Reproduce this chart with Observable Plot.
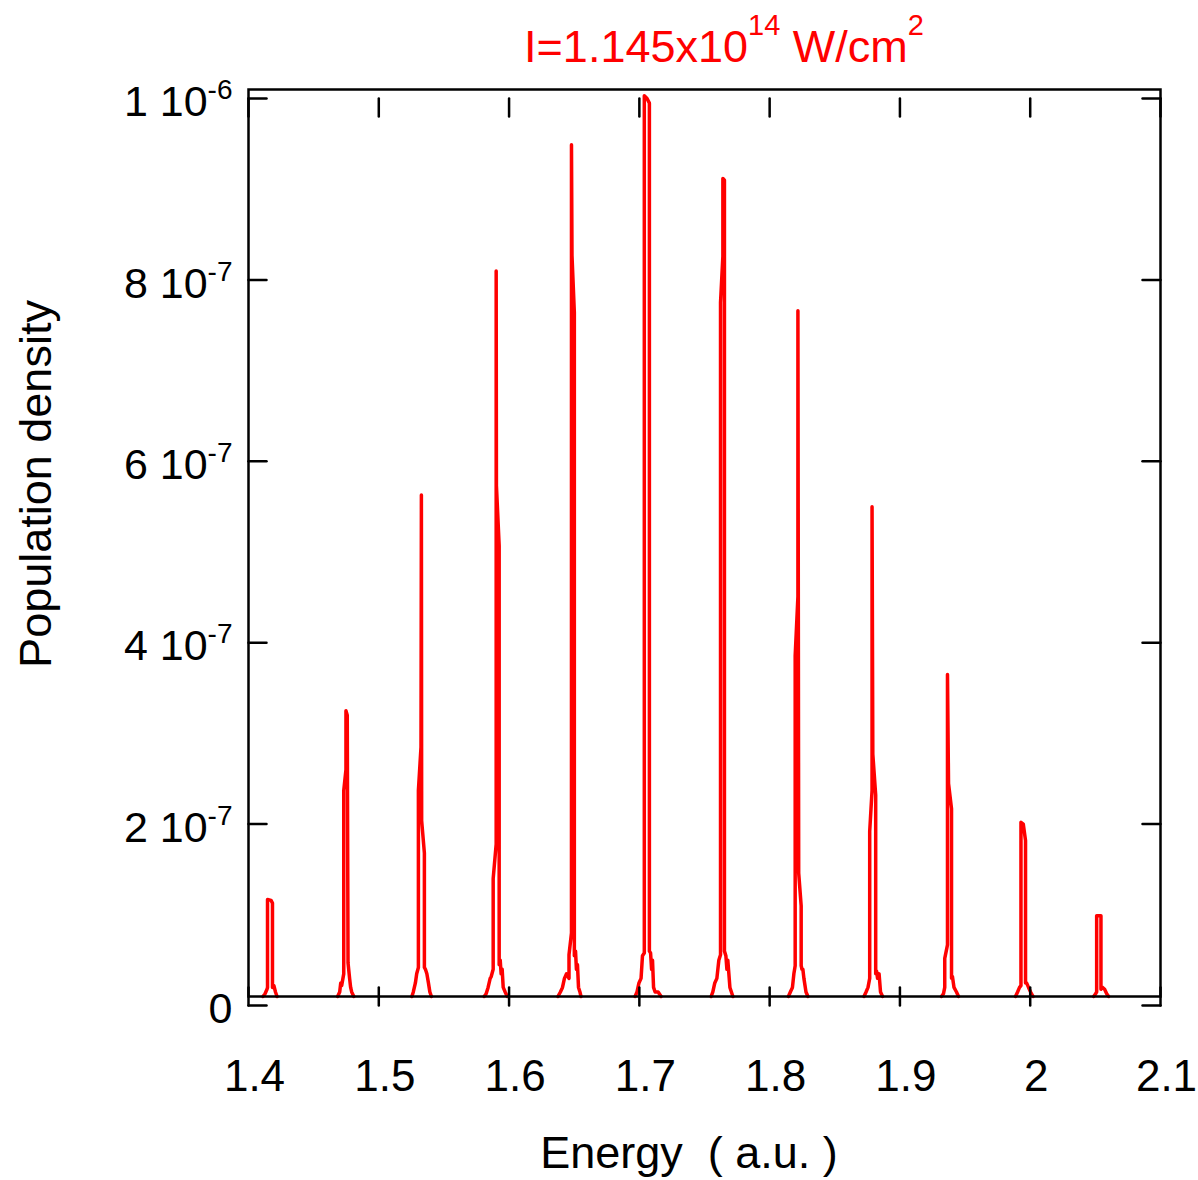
<!DOCTYPE html>
<html><head><meta charset="utf-8">
<script src="https://cdn.jsdelivr.net/npm/d3@7"></script>
<script src="https://cdn.jsdelivr.net/npm/@observablehq/plot@0.6"></script>
<style>body{margin:0;background:#fff} svg{display:block}</style>
</head><body><div id="chart"></div>
<script>
// Peak centres (energy, a.u.)
const peakCenters = [1.4165, 1.4746, 1.5327, 1.5901, 1.6479, 1.7059, 1.7641, 1.8217, 1.8786, 1.9365, 1.9941, 2.0525];
// Peak profiles: [energy offset (1e-3 a.u.), population density (1e-7)]
const peak1 = [[-5.4,0],[-3.8,0.03],[-2.3,0.08],[-1.9,0.1],[-1.9,1.07],[0.8,1.06],[1.9,1.03],[1.9,0.1],[3.0,0.12],[4.2,0.05],[5.4,0]];
const peak2 = [[-6.2,0],[-4.6,0.05],[-3.8,0.15],[-3.1,0.12],[-1.5,0.25],[-1.5,2.27],[0.2,2.5],[0.2,3.15],[1.2,3.1],[1.8,0.37],[3.0,0.2],[3.8,0.1],[4.6,0.05],[6.2,0]];
const peak3 = [[-7.3,0],[-6.2,0.05],[-4.6,0.15],[-3.6,0.25],[-2.3,0.32],[-2.3,2.27],[-0.3,2.75],[0,5.53],[0.2,1.94],[2.3,1.58],[2.3,0.32],[3.1,0.3],[4.2,0.25],[5.4,0.15],[6.5,0.05],[7.7,0]];
const peak4 = [[-9.2,0],[-7.7,0.03],[-6.2,0.1],[-4.6,0.2],[-3.8,0.22],[-2.3,0.3],[-2.3,1.3],[0,1.68],[0,8.0],[0.2,5.63],[2.3,4.97],[2.3,0.35],[3.1,0.4],[3.8,0.25],[4.6,0.3],[5.4,0.1],[6.9,0.05],[8.5,0]];
const peak5 = [[-10.4,0],[-8.5,0.05],[-6.9,0.1],[-5.4,0.2],[-3.8,0.25],[-1.9,0.2],[-1.9,0.46],[0,0.7],[0,9.39],[0.4,8.17],[2.2,7.54],[2.2,0.45],[3.1,0.5],[3.8,0.3],[4.6,0.35],[5.4,0.1],[6.5,0.05],[7.3,0]];
const peak6 = [[-9.2,0],[-7.7,0.05],[-6.2,0.15],[-4.6,0.2],[-3.5,0.45],[-2.1,0.48],[-2.1,9.93],[0,9.9],[1.8,9.85],[1.8,0.5],[2.7,0.48],[3.5,0.3],[4.2,0.4],[5.0,0.1],[6.2,0.05],[8.5,0.05],[10.8,0]];
const peak7 = [[-9.0,0],[-7.7,0.05],[-6.2,0.15],[-4.6,0.2],[-3.1,0.4],[-1.8,0.46],[-1.8,7.65],[0,8.16],[0,9.02],[1.2,9.0],[1.2,0.5],[2.3,0.45],[3.1,0.3],[3.8,0.4],[5.4,0.1],[7.7,0]];
const peak8 = [[-7.3,0],[-5.8,0.05],[-4.2,0.1],[-3.1,0.25],[-2.1,0.34],[-2.1,3.76],[0,4.41],[0,7.56],[0.6,1.36],[2.5,1.0],[2.5,0.34],[3.1,0.3],[3.8,0.3],[4.6,0.2],[6.2,0.05],[7.7,0]];
const peak9 = [[-6.2,0],[-4.6,0.05],[-3.1,0.1],[-1.8,0.2],[-1.8,1.82],[0,2.27],[0,5.40],[0.6,2.67],[2.8,2.22],[2.8,0.25],[3.5,0.28],[4.2,0.2],[5.4,0.25],[6.5,0.05],[8.1,0]];
const peak10 = [[-4.6,0],[-3.1,0.03],[-2.1,0.1],[-2.1,0.42],[0,0.57],[0,3.55],[0.8,2.35],[3.1,2.07],[3.1,0.2],[3.8,0.22],[5.0,0.1],[6.9,0.05],[8.5,0]];
const peak11 = [[-5.4,0],[-3.8,0.05],[-2.3,0.1],[-1.2,0.12],[-1.2,1.92],[0.6,1.9],[2.3,1.72],[2.3,0.15],[3.1,0.15],[4.6,0.1],[6.2,0.05],[8.1,0]];
const peak12 = [[-3.8,0],[-2.3,0.03],[-1.5,0.05],[-1.5,0.89],[1.8,0.89],[1.8,0.08],[3.1,0.1],[4.6,0.08],[6.2,0.03],[7.7,0]];
const profiles = [peak1, peak2, peak3, peak4, peak5, peak6, peak7, peak8, peak9, peak10, peak11, peak12];

const xTicks = [1.4, 1.5, 1.6, 1.7, 1.8, 1.9, 2.0, 2.1];
const xTickLabels = ["1.4", "1.5", "1.6", "1.7", "1.8", "1.9", "2", "2.1"];
const yTicks = [0, 2e-7, 4e-7, 6e-7, 8e-7, 1e-6];
const yTickLabels = ["0", "2 10^-7", "4 10^-7", "6 10^-7", "8 10^-7", "1 10^-6"];

const points = profiles.flatMap((prof, k) =>
  prof.map(([dE, v]) => ({E: peakCenters[k] + dE / 1000, p: v * 1e-7, peak: k})));

const tickUp = {draw(c, l) { c.moveTo(0, 0); c.lineTo(0, -l); }};
const tickDown = {draw(c, l) { c.moveTo(0, 0); c.lineTo(0, l); }};
const tickRight = {draw(c, l) { c.moveTo(0, 0); c.lineTo(l, 0); }};
const tickLeft = {draw(c, l) { c.moveTo(0, 0); c.lineTo(-l, 0); }};
const tk = {stroke: "black", strokeWidth: 2.5, length: 18};

const chart = Plot.plot({
  width: 1198, height: 1180,
  marginLeft: 248, marginRight: 38, marginTop: 89, marginBottom: 184,
  style: {fontFamily: "'Liberation Sans', Arial, sans-serif", background: "white", color: "black"},
  x: {domain: [1.4, 2.1]},
  y: {domain: [0, 1e-6]},
  marks: [
    Plot.line(points, {x: "E", y: "p", z: "peak", stroke: "#ff0000", strokeWidth: 3.5, strokeLinejoin: "round"}),
    Plot.frame({stroke: "black", strokeWidth: 2.5}),
    Plot.vector(xTicks, {x: d => d, frameAnchor: "bottom", shape: tickUp, ...tk}),
    Plot.vector(xTicks, {x: d => d, frameAnchor: "top", shape: tickDown, ...tk}),
    Plot.vector(yTicks, {y: d => d, frameAnchor: "left", shape: tickRight, ...tk}),
    Plot.vector(yTicks, {y: d => d, frameAnchor: "right", shape: tickLeft, ...tk}),
    Plot.axisX({ticks: xTicks, tickFormat: d => xTickLabels[xTicks.indexOf(d)], tickSize: 0, tickPadding: 63, fontSize: 44, dx: 6, label: null}),
    Plot.axisY({ticks: yTicks, tickFormat: d => yTickLabels[yTicks.indexOf(d)], tickSize: 0, tickPadding: 16, fontSize: 43, dy: 13, label: null})
  ]
});
document.getElementById("chart").appendChild(chart);

const svg = d3.select(chart);
// superscripts in y tick labels
svg.selectAll("text").each(function () {
  const s = this.textContent;
  if (s.includes("^")) {
    const [base, exp] = s.split("^");
    this.textContent = base;
    d3.select(this).append("tspan").attr("dy", -17).attr("font-size", 28).text(exp);
  }
});
// title
const t = svg.append("text").attr("x", 724).attr("y", 62).attr("text-anchor", "middle")
  .attr("fill", "#ff0000").attr("font-size", 45).style("white-space", "pre");
t.append("tspan").text("I=1.145x10");
t.append("tspan").attr("dy", -27).attr("font-size", 29).text("14");
t.append("tspan").attr("dy", 27).text(" W/cm");
t.append("tspan").attr("dy", -27).attr("font-size", 29).text("2");
// axis labels
svg.append("text").attr("x", 689).attr("y", 1168).attr("text-anchor", "middle")
  .attr("font-size", 45).attr("fill", "black").style("white-space", "pre").text("Energy  ( a.u. )");
svg.append("text").attr("transform", "translate(51,484) rotate(-90)").attr("text-anchor", "middle")
  .attr("font-size", 45).attr("fill", "black").text("Population density");
</script></body></html>
